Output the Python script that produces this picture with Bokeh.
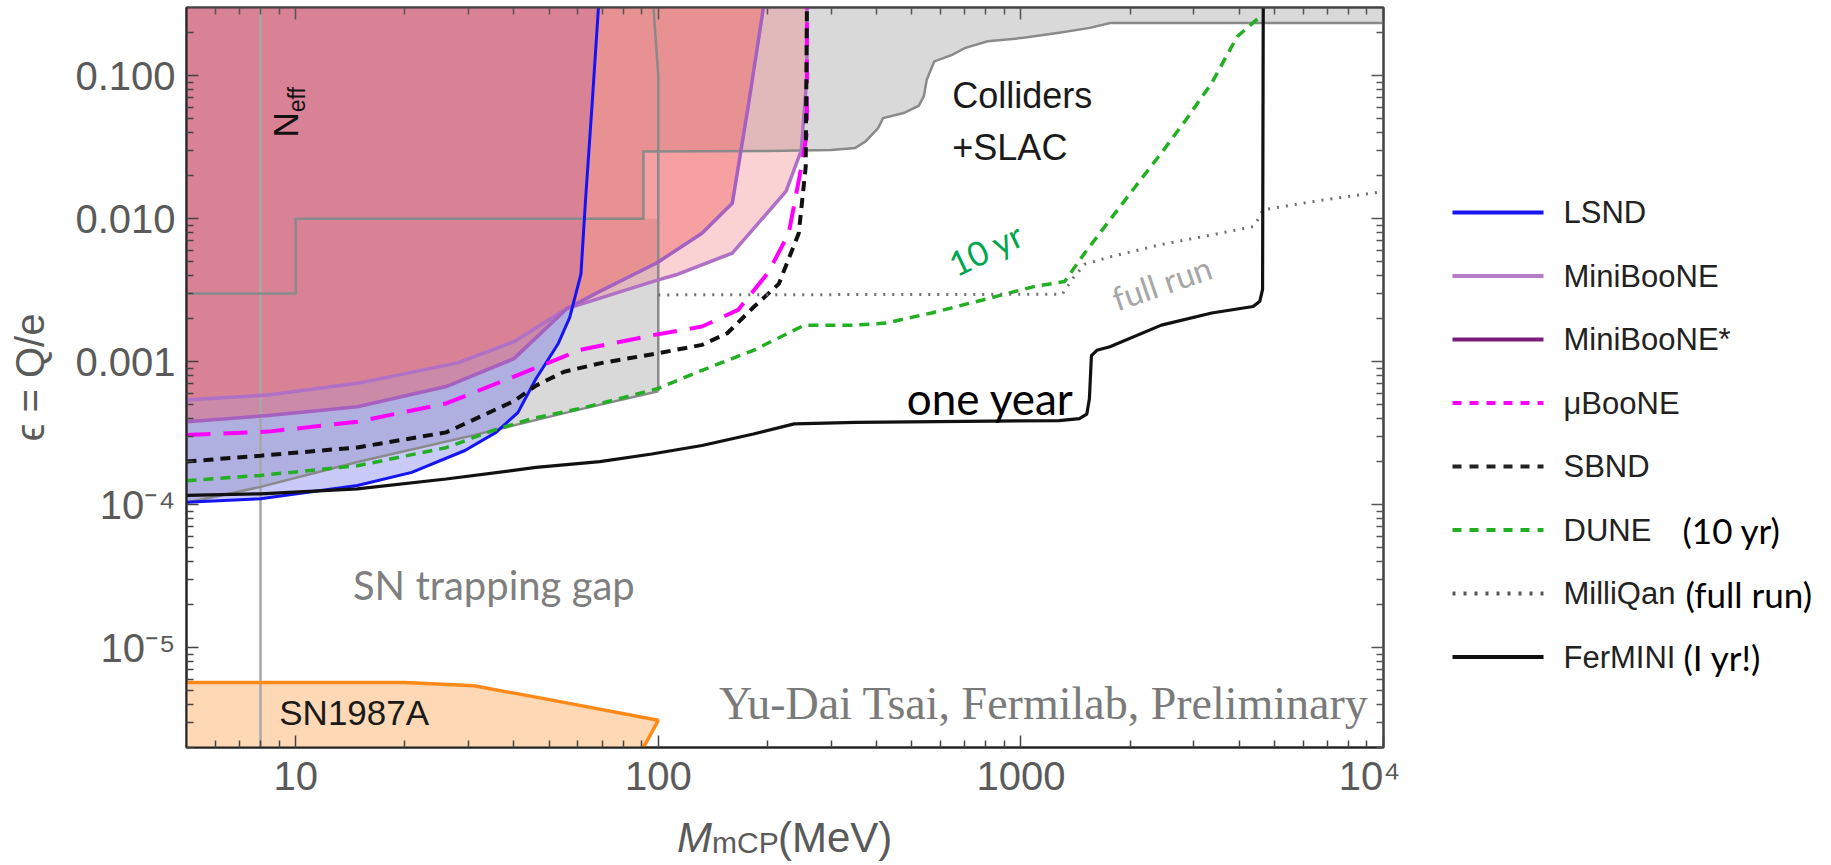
from bokeh.plotting import figure
from bokeh.models import (Range1d, FixedTicker, CustomJSTickFormatter, LogAxis, Label,
                          ColumnDataSource)
from bokeh.layouts import row, column
from bokeh.embed import file_html
from bokeh.resources import INLINE
from bokeh.core.properties import value

# ---------------------------------------------------------------- ranges / ticks
M_MIN, M_MAX = 5.0, 1.0e4
EPS_MIN, EPS_MAX = 2.0e-6, 0.3

x_major = [10, 100, 1000, 10000]
x_major_text = ["10", "100", "1000", "10⁴"]
y_major = [1e-5, 1e-4, 1e-3, 1e-2, 1e-1]
y_major_text = ["10⁻⁵", "10⁻⁴", "0.001", "0.010", "0.100"]

# ---------------------------------------------------------------- excluded regions
# SLAC millicharge search (step) and collider bounds
slac_m = [5, 10, 10, 91, 91]
slac_eps = [3.0e-3, 3.0e-3, 1.0e-2, 1.0e-2, 2.95e-2]
coll_m = [91, 200, 300, 349, 373, 404, 417, 475, 523, 540, 550, 577, 646, 700,
          810, 1017, 1275, 1549, 1763, 10000]
coll_eps = [0.0295, 0.0298, 0.0302, 0.0312, 0.0347, 0.043, 0.0506, 0.0548, 0.0617,
            0.0717, 0.0938, 0.126, 0.14, 0.156, 0.174, 0.184, 0.20, 0.216, 0.234, 0.234]

# lower edge of the grey band below 100 MeV
band_m = [5, 8, 15, 30, 60, 100]
band_eps = [1.03e-4, 1.33e-4, 2.0e-4, 3.0e-4, 4.6e-4, 6.2e-4]
band_edge_m = [100, 100, 97]
band_edge_eps = [6.2e-4, 0.1, 0.3]

# N_eff bound
neff_m = 8.0

# LSND
lsnd_m = [5, 8, 14.8, 20.9, 29.3, 35.7, 41, 46, 53, 57, 61.2, 63, 65.8, 68.4]
lsnd_eps = [1.04e-4, 1.1e-4, 1.36e-4, 1.68e-4, 2.39e-4, 3.2e-4, 4.4e-4, 7.6e-4,
            1.34e-3, 2.04e-3, 4.1e-3, 1.34e-2, 6.7e-2, 0.3]

# MiniBooNE (outer contour at high mass)
mb_m = [5, 8.4, 14.8, 28, 40, 56, 76, 99, 112, 160, 225, 248, 257, 257]
mb_eps = [5.4e-4, 5.85e-4, 7.05e-4, 9.8e-4, 1.38e-3, 2.35e-3, 3.0e-3, 3.7e-3,
          4.05e-3, 5.75e-3, 1.55e-2, 3.0e-2, 0.1, 0.3]

# MiniBooNE* (inner contour at high mass)
mbs_m = [5, 8.4, 14.8, 26, 40, 56, 69, 99, 132, 160, 177, 195]
mbs_eps = [3.8e-4, 4.2e-4, 4.84e-4, 6.7e-4, 1.05e-3, 2.35e-3, 3.1e-3, 4.9e-3,
           7.9e-3, 1.28e-2, 6.1e-2, 0.3]

# SN1987A cooling
sn_m = [5, 20, 31, 46, 100, 91]
sn_eps = [5.7e-6, 5.7e-6, 5.4e-6, 4.5e-6, 3.1e-6, 2.0e-6]

# ---------------------------------------------------------------- projections
ub_m = [5, 8.4, 14.8, 26, 40, 61, 99, 132, 166, 201, 229, 248, 257, 257]
ub_eps = [3.07e-4, 3.24e-4, 3.8e-4, 5.1e-4, 7.85e-4, 1.21e-3, 1.55e-3, 1.76e-3,
          2.3e-3, 4.2e-3, 7.9e-3, 2.3e-2, 4.0e-2, 0.3]

sbnd_m = [5, 8, 14.8, 26, 40, 46, 55, 70, 99, 132, 155, 183, 215, 244, 255, 257]
sbnd_eps = [2.0e-4, 2.2e-4, 2.51e-4, 3.2e-4, 5.3e-4, 6.8e-4, 8.5e-4, 9.8e-4,
            1.14e-3, 1.31e-3, 1.58e-3, 2.4e-3, 3.5e-3, 7.9e-3, 2.3e-2, 0.3]

dune_m = [5, 8, 14.8, 26, 35, 45, 61, 80, 100, 132, 183, 253, 349, 424, 567, 784,
          1085, 1320, 1500, 1760, 2070, 2440, 2850, 3360, 3950, 4470, 4600]
dune_eps = [1.47e-4, 1.6e-4, 1.87e-4, 2.5e-4, 3.3e-4, 4.0e-4, 4.7e-4, 5.6e-4,
            6.5e-4, 8.7e-4, 1.2e-3, 1.8e-3, 1.8e-3, 1.86e-3, 2.19e-3, 2.7e-3,
            3.35e-3, 3.63e-3, 5.75e-3, 9.8e-3, 1.68e-2, 2.88e-2, 4.9e-2, 8.9e-2,
            0.188, 0.247, 0.26]

milliqan_m = [100, 1300, 1400, 1500, 1760, 2440, 3360, 4370, 4570, 4640, 6420, 10000]
milliqan_eps = [2.93e-3, 2.96e-3, 3.9e-3, 4.8e-3, 5.4e-3, 6.6e-3, 7.7e-3, 8.8e-3,
                1.04e-2, 1.15e-2, 1.32e-2, 1.55e-2]

fermini_m = [5, 8, 14.8, 26, 46, 69, 96, 132, 183, 237, 350, 1275, 1450, 1520,
             1545, 1565, 1620, 1760, 2440, 3360, 4370, 4560, 4640, 4660]
fermini_eps = [1.16e-4, 1.19e-4, 1.29e-4, 1.51e-4, 1.82e-4, 2.0e-4, 2.26e-4,
               2.59e-4, 3.12e-4, 3.67e-4, 3.76e-4, 3.87e-4, 4.0e-4, 4.3e-4,
               5.5e-4, 1.1e-3, 1.2e-3, 1.27e-3, 1.8e-3, 2.19e-3, 2.43e-3, 2.65e-3,
               3.2e-3, 0.3]

# ---------------------------------------------------------------- legend entries
legend_names = ["LSND", "MiniBooNE", "MiniBooNE*", "μBooNE", "SBND", "DUNE",
                "MilliQan", "FerMINI"]
legend_notes = ["", "", "", "", "", "(10 yr)", "(full run)", "(I yr!)"]

AX_TEXT = "#5a5a5a"
SANS = "Liberation Sans"
FRAME_L, FRAME_R, FRAME_T, FRAME_B = 186, 17, 7, 747   # page pixels

p = figure(width=1400, height=800, x_axis_type="log", y_axis_type="log",
           x_range=Range1d(M_MIN, M_MAX), y_range=Range1d(EPS_MIN, EPS_MAX),
           output_backend="svg", toolbar_location=None,
           min_border_left=FRAME_L, min_border_right=FRAME_R, min_border_top=FRAME_T,
           min_border_bottom=800 - FRAME_B)
p.grid.visible = False
p.outline_line_color = "#333333"
p.outline_line_width = 2
p.background_fill_color = "white"
p.border_fill_color = "white"

x_minor = [m * 10 ** e for e in range(0, 4) for m in range(2, 10)
           if M_MIN < m * 10 ** e < M_MAX]
y_minor = [m * 10 ** e for e in range(-6, 0) for m in range(2, 10)
           if EPS_MIN <= m * 10 ** e <= EPS_MAX]

fmt_code = """
const i = vals.findIndex(v => Math.abs(v - tick) / v < 1e-6);
return i >= 0 ? txt[i] : "";
"""
xt = FixedTicker(ticks=x_major, minor_ticks=x_minor)
yt = FixedTicker(ticks=y_major, minor_ticks=y_minor)

xa, ya = p.xaxis[0], p.yaxis[0]
xa.ticker = xt
ya.ticker = yt
xa.formatter = CustomJSTickFormatter(args=dict(vals=x_major, txt=x_major_text), code=fmt_code)
ya.formatter = CustomJSTickFormatter(args=dict(vals=y_major, txt=y_major_text), code=fmt_code)
for ax in (xa, ya):
    ax.major_tick_in = 12
    ax.major_tick_out = 0
    ax.minor_tick_in = 7
    ax.minor_tick_out = 0
    ax.major_tick_line_color = "#444444"
    ax.minor_tick_line_color = "#444444"
    ax.major_tick_line_width = 1.5
    ax.minor_tick_line_width = 1.5
    ax.axis_line_color = "#222222"
    ax.axis_line_width = 2
    ax.major_label_text_font = SANS
    ax.major_label_text_font_size = "40px"
    ax.major_label_text_color = AX_TEXT
xa.major_label_standoff = 6
ya.major_label_standoff = 11
ya.axis_label = "ϵ = Q/e"
ya.axis_label_text_font = SANS
ya.axis_label_text_font_size = "40px"
ya.axis_label_text_font_style = "normal"
ya.axis_label_text_color = AX_TEXT
ya.axis_label_standoff = 20

# tick marks on the top and right edges of the frame (labels hidden)
for loc, tk in (("above", xt), ("right", yt)):
    ax2 = LogAxis(ticker=tk, major_label_text_font_size="1px", major_label_text_alpha=0,
                  major_label_standoff=0,
                  major_tick_in=12, major_tick_out=0, minor_tick_in=7, minor_tick_out=0,
                  major_tick_line_color="#555555", minor_tick_line_color="#555555",
                  major_tick_line_width=1.5, minor_tick_line_width=1.5,
                  axis_line_color="#444444", axis_line_width=2)
    p.add_layout(ax2, loc)

# ---------------------------------------------------------------- filled regions
p.patch(sn_m + [M_MIN], sn_eps + [EPS_MIN], fill_color="#FFD9B5", line_color=None)

GREY = dict(fill_color="#808080", fill_alpha=0.30, line_color=None)
p.patch(slac_m + coll_m + [M_MAX, M_MIN], slac_eps + coll_eps + [EPS_MAX, EPS_MAX], **GREY)
p.patch(band_m + [100, 10, 10, 5], band_eps + [0.01, 0.01, 0.003, 0.003], **GREY)

p.patch(lsnd_m + [M_MIN], lsnd_eps + [EPS_MAX], fill_color="#5A5AF0", fill_alpha=0.33,
        line_color=None)
p.patch(mb_m + [M_MIN], mb_eps + [EPS_MAX], fill_color="#F17E84", fill_alpha=0.35,
        line_color=None)
p.patch(mbs_m + [M_MIN], mbs_eps + [EPS_MAX], fill_color="#F45A5A", fill_alpha=0.42,
        line_color=None)

# ---------------------------------------------------------------- boundary lines
p.line([neff_m, neff_m], [EPS_MIN, EPS_MAX], line_color="#A8A8A8", line_width=2.5)
p.line(slac_m + coll_m, slac_eps + coll_eps, line_color="#8A8A8A", line_width=2.5,
       line_join="miter")
p.line(band_m, band_eps, line_color="#8A8A8A", line_width=2.5)
p.line(band_edge_m, band_edge_eps, line_color="#8A8A8A", line_width=2.5)
p.line(sn_m, sn_eps, line_color="#FF8A1A", line_width=3.5)

p.line(mb_m, mb_eps, line_color="#B070C6", line_width=3.5)
p.line(mbs_m, mbs_eps, line_color="#A660C0", line_width=3.5)
p.line(lsnd_m, lsnd_eps, line_color="#1414F5", line_width=3)

p.line(ub_m, ub_eps, line_color="#FF00FF", line_width=4, line_dash="24 13")
p.line(sbnd_m, sbnd_eps, line_color="#111111", line_width=4, line_dash="10 7")
p.line(dune_m, dune_eps, line_color="#22AF22", line_width=3.5, line_dash="10 7")
p.line(milliqan_m, milliqan_eps, line_color="#6E6E6E", line_width=3, line_dash="2 7")
p.line(fermini_m, fermini_eps, line_color="#111111", line_width=3.2)

# ---------------------------------------------------------------- annotations
def note(x, y, text, size, color="#1a1a1a", font=SANS, align="center", angle=0.0,
         baseline="middle", style="normal"):
    p.add_layout(Label(x=x, y=y, text=text, text_font=font, text_font_size=size,
                       text_color=color, text_align=align, text_baseline=baseline,
                       angle=angle, text_font_style=style))

note(647, 0.0727, "Colliders", "36px", align="left")
note(647, 0.0315, "+SLAC", "36px", align="left")
note(800, 6.2e-3, "10 yr", "34px", color="#00A64F", font="Lato", angle=0.447)
note(2445, 3.58e-3, "full run", "33px", color="#A6A6A6", font="Lato", angle=0.33)
note(824, 5.6e-4, "one year", "44px", color="#000000", font="Lato")
note(35.2, 2.72e-5, "SN trapping gap", "40px", color="#7F7F7F", font="Lato")
note(14.5, 3.52e-6, "SN1987A", "35px")
note(9100, 4.07e-6, "Yu-Dai Tsai, Fermilab, Preliminary", "46px", color="#7A7A7A",
     font="Liberation Serif", align="right")
note(9.4, 0.037, "N", "35px", color="#111111", align="left", angle=1.5708)
note(10.1, 0.0555, "eff", "23px", color="#111111", align="left", angle=1.5708)

# ---------------------------------------------------------------- x-axis title strip
t = figure(width=1400, height=65, x_axis_type="log", x_range=p.x_range,
           y_range=Range1d(65, 0), output_backend="svg", toolbar_location=None,
           x_axis_location=None, y_axis_location=None,
           min_border_left=FRAME_L, min_border_right=FRAME_R, min_border_top=0,
           min_border_bottom=0, outline_line_color=None)
t.grid.visible = False
x_mid = (M_MIN * M_MAX) ** 0.5
for text, dx, yb, size, style in (("M", -108, 37, "42px", "italic"),
                                  ("mCP", -73, 42, "30px", "normal"),
                                  ("(MeV)", -7, 37, "42px", "normal")):
    t.add_layout(Label(x=x_mid, y=yb, x_offset=dx, text=text,
                       text_font=SANS, text_font_size=size, text_font_style=style,
                       text_color=AX_TEXT, text_align="left",
                       text_baseline="alphabetic"))

# ---------------------------------------------------------------- legend panel
q = figure(width=431, height=865, x_range=Range1d(0, 431),
           y_range=Range1d(FRAME_B, FRAME_T),
           output_backend="svg", toolbar_location=None,
           x_axis_location=None, y_axis_location=None,
           min_border_left=0, min_border_right=0, min_border_top=FRAME_T,
           min_border_bottom=865 - FRAME_B, outline_line_color=None)
q.grid.visible = False

styles = [dict(line_color="#1414F5"),
          dict(line_color="#B47CC7"),
          dict(line_color="#7B1E7B"),
          dict(line_color="#FF00FF", line_dash="9 8"),
          dict(line_color="#222222", line_dash="9 8"),
          dict(line_color="#22AF22", line_dash="9 8"),
          dict(line_color="#555555", line_dash="3 8"),
          dict(line_color="#111111")]
row_y = [212 + 63.5 * i for i in range(len(legend_names))]
for y, st in zip(row_y, styles):
    q.line([52, 143], [y, y], line_width=4, **st)

q.text(x=163, y=row_y, text=legend_names, text_font=value(SANS),
       text_font_size="31px", text_color="#222222", text_baseline="middle")
note_src = ColumnDataSource(dict(x=[0, 0, 0, 0, 0, 282, 285, 283], y=row_y,
                                 t=legend_notes))
q.text(x="x", y="y", text="t", source=note_src, text_font=value("Lato"),
       text_font_size="35px", text_color="#000000", text_baseline="middle")

layout = row(column(p, t, spacing=0), q, spacing=0)
open("out.html", "w").write(file_html(layout, INLINE))
